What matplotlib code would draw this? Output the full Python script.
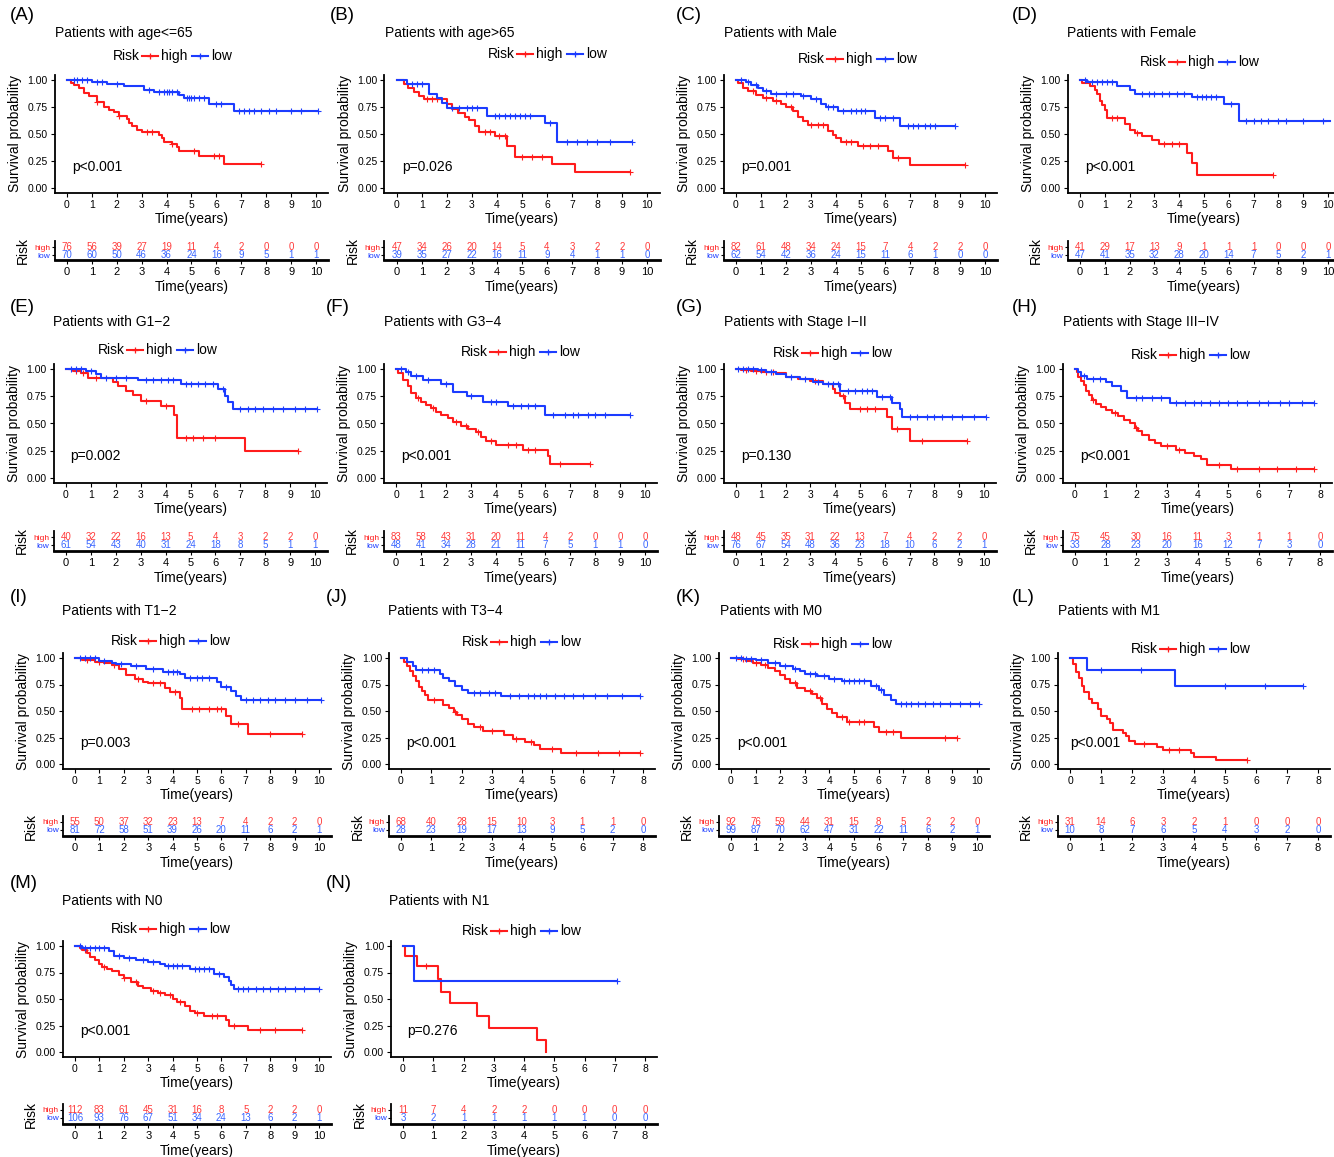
import matplotlib
matplotlib.use("Agg")
import matplotlib.pyplot as plt
from matplotlib.lines import Line2D
import numpy as np

plt.rcParams['font.family'] = ['Liberation Sans', 'DejaVu Sans']

# ---------------- data ----------------
# Panel A
A_high_t = [0, 0.15, 0.3, 0.5, 0.7, 0.9, 1.2, 1.5, 1.7, 1.9, 2.1, 2.4, 2.5, 2.6, 2.8, 3.0, 3.7, 3.8, 3.9, 4.2, 4.4, 4.5, 5.3, 6.3, 7.8]
A_high_s = [1.0, 0.97, 0.95, 0.93, 0.88, 0.85, 0.80, 0.75, 0.72, 0.70, 0.67, 0.64, 0.60, 0.57, 0.54, 0.52, 0.49, 0.46, 0.43, 0.41, 0.38, 0.34, 0.30, 0.22, 0.22]
A_high_c = [1.2, 2.1, 3.2, 3.4, 4.2, 5.1, 5.9, 6.1, 7.8]
A_low_t = [0, 1.0, 1.6, 2.3, 3.1, 3.5, 4.5, 4.7, 5.7, 6.7, 10.1]
A_low_s = [1.0, 0.98, 0.96, 0.94, 0.91, 0.89, 0.86, 0.83, 0.78, 0.71, 0.71]
A_low_c = [0.3, 0.4, 0.6, 0.8, 1.2, 1.4, 2.0, 3.3, 3.7, 3.9, 4.0, 4.1, 4.2, 4.4, 4.8, 4.9, 5.0, 5.1, 5.3, 5.5, 6.0, 6.2, 6.9, 7.1, 7.3, 7.5, 7.8, 8.1, 8.4, 9.0, 9.4, 10.1]
A_risk_high = [76, 56, 39, 27, 19, 11, 4, 2, 0, 0, 0]
A_risk_low = [70, 60, 50, 46, 36, 24, 16, 9, 5, 1, 1]

# Panel B
B_high_t = [0, 0.3, 0.45, 0.7, 0.9, 1.1, 2.0, 2.2, 2.45, 2.7, 2.9, 3.1, 3.3, 3.9, 4.4, 4.7, 6.2, 7.1, 9.3]
B_high_s = [1.0, 0.96, 0.93, 0.89, 0.85, 0.82, 0.78, 0.73, 0.69, 0.66, 0.63, 0.57, 0.52, 0.48, 0.39, 0.29, 0.22, 0.15, 0.15]
B_high_c = [1.2, 1.4, 1.6, 3.5, 3.7, 4.1, 4.3, 5.0, 5.4, 5.8, 9.3]
B_low_t = [0, 0.4, 1.3, 1.6, 1.8, 2.0, 3.6, 5.9, 6.4, 9.4]
B_low_s = [1.0, 0.96, 0.87, 0.83, 0.79, 0.74, 0.67, 0.60, 0.43, 0.43]
B_low_c = [0.6, 0.8, 1.0, 2.2, 2.5, 2.8, 3.0, 3.2, 3.9, 4.1, 4.3, 4.5, 4.7, 4.9, 5.1, 5.3, 6.1, 6.8, 7.2, 7.6, 8.0, 8.5, 9.4]
B_risk_high = [47, 34, 26, 20, 14, 5, 4, 3, 2, 2, 0]
B_risk_low = [39, 35, 27, 22, 16, 11, 9, 4, 1, 1, 0]

# Panel C
C_high_t = [0, 0.1, 0.3, 0.5, 0.8, 1.1, 1.5, 1.8, 2.0, 2.3, 2.5, 2.7, 2.9, 3.7, 3.9, 4.0, 4.2, 4.9, 6.1, 6.3, 7.0, 9.2]
C_high_s = [1.0, 0.97, 0.93, 0.90, 0.86, 0.83, 0.81, 0.78, 0.75, 0.71, 0.66, 0.62, 0.58, 0.53, 0.49, 0.46, 0.43, 0.39, 0.34, 0.28, 0.21, 0.21]
C_high_c = [0.7, 1.2, 1.6, 2.2, 3.0, 3.3, 3.5, 4.4, 4.6, 5.1, 5.4, 5.7, 6.5, 9.2]
C_low_t = [0, 0.4, 0.6, 0.9, 1.1, 1.4, 2.6, 3.0, 3.4, 3.6, 4.1, 5.6, 6.6, 8.8]
C_low_s = [1.0, 0.98, 0.95, 0.93, 0.90, 0.87, 0.85, 0.82, 0.78, 0.75, 0.71, 0.65, 0.57, 0.57]
C_low_c = [0.2, 0.5, 0.8, 1.2, 1.6, 2.0, 2.3, 2.7, 3.2, 3.7, 3.9, 4.3, 4.6, 4.8, 5.0, 5.2, 5.8, 6.0, 6.3, 6.9, 7.1, 7.3, 7.6, 7.8, 8.0, 8.8]
C_risk_high = [82, 61, 48, 34, 24, 15, 7, 4, 2, 2, 0]
C_risk_low = [62, 54, 42, 36, 24, 15, 11, 6, 1, 0, 0]

# Panel D
D_high_t = [0, 0.1, 0.4, 0.6, 0.7, 0.8, 0.9, 1.0, 1.1, 1.8, 2.0, 2.2, 2.5, 2.9, 3.2, 4.3, 4.5, 4.7, 7.8]
D_high_s = [1.0, 0.97, 0.94, 0.91, 0.87, 0.81, 0.77, 0.72, 0.65, 0.59, 0.54, 0.51, 0.48, 0.44, 0.41, 0.32, 0.23, 0.12, 0.12]
D_high_c = [1.3, 1.5, 2.3, 3.4, 3.7, 4.0, 7.8]
D_low_t = [0, 0.3, 1.5, 2.0, 2.2, 4.5, 5.8, 6.4, 10.1]
D_low_s = [1.0, 0.98, 0.94, 0.91, 0.87, 0.84, 0.78, 0.62, 0.62]
D_low_c = [0.2, 0.5, 0.7, 0.9, 1.1, 1.3, 2.5, 2.8, 3.0, 3.3, 3.6, 3.9, 4.2, 4.7, 4.9, 5.1, 5.3, 5.5, 6.1, 6.7, 7.0, 7.3, 7.6, 8.0, 8.3, 9.0, 9.8]
D_risk_high = [41, 29, 17, 13, 9, 1, 1, 1, 0, 0, 0]
D_risk_low = [47, 41, 35, 32, 28, 20, 14, 7, 5, 2, 1]

# Panel E
E_high_t = [0, 0.3, 0.6, 0.9, 1.9, 2.1, 2.4, 2.7, 3.0, 3.8, 4.35, 4.45, 7.2, 9.3]
E_high_s = [1.0, 0.98, 0.96, 0.92, 0.88, 0.84, 0.80, 0.76, 0.71, 0.66, 0.58, 0.37, 0.25, 0.25]
E_high_c = [0.4, 0.7, 1.2, 3.2, 4.0, 4.8, 5.1, 5.5, 6.0, 9.3]
E_low_t = [0, 0.8, 1.2, 1.4, 2.9, 4.6, 6.1, 6.4, 6.5, 6.7, 10.1]
E_low_s = [1.0, 0.98, 0.95, 0.92, 0.90, 0.86, 0.82, 0.75, 0.70, 0.63, 0.63]
E_low_c = [0.2, 0.4, 0.6, 1.0, 1.6, 2.0, 2.4, 3.2, 3.5, 3.8, 4.1, 4.3, 4.8, 5.0, 5.3, 5.6, 5.9, 6.3, 7.0, 7.3, 7.6, 7.9, 8.3, 8.7, 9.2, 9.6, 10.1]
E_risk_high = [40, 32, 22, 16, 13, 5, 4, 3, 2, 2, 0]
E_risk_low = [61, 54, 43, 40, 31, 24, 18, 8, 5, 1, 1]

# Panel F
F_high_t = [0, 0.1, 0.3, 0.5, 0.6, 0.8, 1.0, 1.2, 1.4, 1.6, 1.8, 2.1, 2.3, 2.6, 2.9, 3.2, 3.4, 3.6, 4.0, 5.1, 6.1, 6.2, 7.8]
F_high_s = [1.0, 0.96, 0.90, 0.84, 0.78, 0.73, 0.70, 0.67, 0.64, 0.61, 0.58, 0.55, 0.51, 0.48, 0.45, 0.42, 0.38, 0.34, 0.30, 0.26, 0.20, 0.13, 0.13]
F_high_c = [0.9, 1.5, 2.4, 2.8, 3.3, 3.8, 4.5, 4.8, 5.3, 5.6, 6.6, 7.8]
F_low_t = [0, 0.4, 0.6, 1.1, 1.8, 2.3, 2.85, 3.5, 4.5, 6.0, 9.4]
F_low_s = [1.0, 0.97, 0.94, 0.90, 0.86, 0.79, 0.75, 0.70, 0.66, 0.58, 0.58]
F_low_c = [0.2, 0.5, 0.8, 1.3, 2.0, 3.0, 3.8, 4.0, 4.7, 5.0, 5.3, 5.6, 6.3, 6.8, 7.1, 7.3, 7.7, 8.0, 8.4, 9.4]
F_risk_high = [83, 58, 43, 31, 20, 11, 4, 2, 0, 0, 0]
F_risk_low = [48, 41, 34, 28, 21, 11, 7, 5, 1, 1, 0]

# Panel G
G_high_t = [0, 0.2, 0.6, 1.0, 1.6, 2.0, 2.5, 3.0, 3.5, 3.9, 4.0, 4.2, 4.4, 4.6, 6.1, 6.3, 7.0, 9.3]
G_high_s = [1.0, 0.99, 0.98, 0.97, 0.96, 0.93, 0.91, 0.89, 0.86, 0.82, 0.78, 0.75, 0.69, 0.63, 0.56, 0.45, 0.34, 0.34]
G_high_c = [0.4, 0.8, 1.2, 1.5, 3.2, 4.3, 5.0, 5.3, 5.6, 6.5, 7.5, 9.3]
G_low_t = [0, 0.9, 1.2, 1.6, 2.0, 2.6, 3.1, 3.5, 4.2, 5.7, 6.3, 6.6, 6.7, 10.1]
G_low_s = [1.0, 0.99, 0.97, 0.95, 0.93, 0.91, 0.88, 0.86, 0.80, 0.74, 0.69, 0.63, 0.56, 0.56]
G_low_c = [0.1, 0.3, 0.5, 0.7, 1.0, 1.4, 2.2, 2.8, 3.3, 3.7, 3.9, 4.1, 4.5, 4.8, 5.1, 5.3, 5.5, 5.9, 6.2, 7.0, 7.3, 7.7, 8.0, 8.3, 8.7, 9.1, 9.6, 10.1]
G_risk_high = [48, 45, 35, 31, 22, 13, 7, 4, 2, 2, 0]
G_risk_low = [76, 67, 54, 48, 36, 23, 18, 10, 6, 2, 1]

# Panel H
H_high_t = [0, 0.05, 0.1, 0.2, 0.3, 0.35, 0.45, 0.55, 0.7, 0.85, 1.0, 1.2, 1.4, 1.6, 1.8, 1.95, 2.05, 2.2, 2.4, 2.6, 2.8, 3.3, 3.6, 3.9, 4.1, 4.3, 5.1, 7.8]
H_high_s = [1.0, 0.97, 0.93, 0.89, 0.85, 0.80, 0.76, 0.72, 0.68, 0.65, 0.62, 0.60, 0.57, 0.53, 0.50, 0.46, 0.43, 0.39, 0.35, 0.32, 0.29, 0.26, 0.23, 0.20, 0.17, 0.12, 0.08, 0.08]
H_high_c = [0.6, 1.3, 2.0, 3.0, 3.4, 4.7, 5.3, 6.0, 6.6, 7.2, 7.8]
H_low_t = [0, 0.1, 0.2, 0.4, 1.0, 1.2, 1.5, 1.7, 3.1, 7.8]
H_low_s = [1.0, 0.97, 0.94, 0.91, 0.88, 0.84, 0.80, 0.73, 0.69, 0.69]
H_low_c = [0.3, 0.6, 0.8, 2.0, 2.2, 2.5, 2.8, 3.3, 3.6, 3.9, 4.1, 4.4, 4.7, 5.0, 5.3, 5.6, 6.0, 6.3, 6.7, 7.0, 7.4, 7.8]
H_risk_high = [75, 45, 30, 16, 11, 3, 1, 1, 0]
H_risk_low = [33, 28, 23, 20, 16, 12, 7, 3, 0]

# Panel I
I_high_t = [0, 0.3, 0.8, 1.2, 1.5, 1.8, 2.1, 2.45, 2.8, 3.0, 3.7, 3.9, 4.3, 4.4, 6.2, 6.4, 7.1, 9.3]
I_high_s = [1.0, 0.98, 0.96, 0.95, 0.93, 0.90, 0.84, 0.80, 0.77, 0.76, 0.72, 0.68, 0.62, 0.52, 0.45, 0.38, 0.28, 0.28]
I_high_c = [0.5, 1.0, 1.6, 2.6, 3.2, 3.5, 4.1, 4.8, 5.1, 5.5, 5.8, 6.0, 6.7, 8.0, 9.3]
I_low_t = [0, 1.0, 1.5, 1.7, 2.3, 2.9, 3.6, 4.3, 4.5, 5.8, 6.0, 6.4, 6.6, 6.8, 10.1]
I_low_s = [1.0, 0.97, 0.95, 0.94, 0.92, 0.90, 0.87, 0.85, 0.81, 0.77, 0.73, 0.69, 0.64, 0.60, 0.60]
I_low_c = [0.2, 0.4, 0.6, 0.8, 1.2, 1.9, 2.5, 3.2, 3.8, 4.0, 4.2, 4.7, 5.0, 5.2, 5.5, 6.2, 7.0, 7.3, 7.6, 7.9, 8.2, 8.6, 9.0, 9.5, 10.1]
I_risk_high = [55, 50, 37, 32, 23, 13, 7, 4, 2, 2, 0]
I_risk_low = [81, 72, 58, 51, 39, 26, 20, 11, 6, 2, 1]

# Panel J
J_high_t = [0, 0.1, 0.2, 0.3, 0.4, 0.5, 0.6, 0.7, 0.8, 0.9, 1.4, 1.6, 1.75, 1.85, 2.0, 2.2, 2.4, 2.7, 3.4, 3.7, 4.1, 4.4, 4.6, 5.3, 7.9]
J_high_s = [1.0, 0.96, 0.92, 0.88, 0.83, 0.78, 0.73, 0.69, 0.65, 0.60, 0.56, 0.53, 0.49, 0.46, 0.42, 0.38, 0.35, 0.31, 0.27, 0.24, 0.21, 0.18, 0.14, 0.10, 0.10]
J_high_c = [1.1, 1.8, 2.6, 3.0, 3.8, 4.3, 5.0, 5.8, 6.5, 7.2, 7.9]
J_low_t = [0, 0.2, 0.4, 0.5, 1.3, 1.4, 1.6, 1.8, 2.0, 2.2, 3.3, 7.9]
J_low_s = [1.0, 0.96, 0.92, 0.89, 0.85, 0.81, 0.78, 0.74, 0.70, 0.67, 0.64, 0.64]
J_low_c = [0.7, 0.9, 1.1, 2.4, 2.6, 2.9, 3.1, 3.6, 3.9, 4.2, 4.4, 4.6, 4.8, 5.1, 5.4, 5.7, 6.0, 6.4, 6.8, 7.3, 7.9]
J_risk_high = [68, 40, 28, 15, 10, 3, 1, 1, 0]
J_risk_low = [28, 23, 19, 17, 13, 9, 5, 2, 0]

# Panel K
K_high_t = [0, 0.3, 0.6, 0.9, 1.2, 1.5, 1.8, 2.0, 2.2, 2.4, 2.7, 3.0, 3.3, 3.5, 3.7, 3.9, 4.1, 4.3, 4.7, 5.8, 6.0, 6.9, 9.2]
K_high_s = [1.0, 0.99, 0.97, 0.95, 0.93, 0.91, 0.88, 0.84, 0.80, 0.76, 0.72, 0.69, 0.66, 0.62, 0.57, 0.52, 0.48, 0.44, 0.40, 0.35, 0.30, 0.25, 0.25]
K_high_c = [0.5, 1.0, 1.4, 2.6, 3.2, 3.6, 4.5, 4.8, 5.2, 5.4, 6.3, 6.6, 8.7, 9.2]
K_low_t = [0, 0.5, 1.0, 1.5, 2.0, 2.5, 2.8, 3.0, 3.5, 4.0, 4.5, 5.7, 6.0, 6.2, 6.5, 6.7, 10.1]
K_low_s = [1.0, 0.99, 0.98, 0.95, 0.92, 0.90, 0.88, 0.85, 0.83, 0.80, 0.78, 0.74, 0.70, 0.65, 0.60, 0.57, 0.57]
K_low_c = [0.2, 0.4, 0.6, 0.8, 1.2, 1.8, 2.2, 2.6, 3.2, 3.4, 3.8, 4.2, 4.6, 4.8, 5.0, 5.2, 5.4, 5.9, 6.1, 6.9, 7.1, 7.3, 7.6, 7.9, 8.2, 8.5, 8.9, 9.3, 9.7, 10.1]
K_risk_high = [92, 76, 59, 44, 31, 15, 8, 5, 2, 2, 0]
K_risk_low = [99, 87, 70, 62, 47, 31, 22, 11, 6, 2, 1]

# Panel L
L_high_t = [0, 0.1, 0.2, 0.3, 0.4, 0.45, 0.6, 0.7, 0.9, 1.0, 1.2, 1.3, 1.4, 1.7, 1.8, 1.9, 2.1, 2.8, 3.0, 3.9, 4.0, 4.7, 5.7]
L_high_s = [1.0, 0.94, 0.87, 0.81, 0.74, 0.68, 0.61, 0.58, 0.52, 0.45, 0.42, 0.39, 0.32, 0.29, 0.26, 0.22, 0.19, 0.16, 0.13, 0.10, 0.07, 0.04, 0.04]
L_high_c = [2.4, 3.2, 3.5, 5.7]
L_low_t = [0, 0.55, 3.4, 7.5]
L_low_s = [1.0, 0.89, 0.74, 0.74]
L_low_c = [1.0, 2.3, 5.0, 6.3, 7.5]
L_risk_high = [31, 14, 6, 3, 2, 1, 0, 0, 0]
L_risk_low = [10, 8, 7, 6, 5, 4, 3, 2, 0]

# Panel M
M_high_t = [0, 0.2, 0.3, 0.5, 0.6, 0.8, 1.0, 1.1, 1.3, 1.5, 1.8, 2.0, 2.3, 2.6, 2.8, 3.1, 3.4, 3.7, 4.0, 4.2, 4.5, 4.7, 4.9, 5.3, 6.2, 6.3, 7.1, 9.3]
M_high_s = [1.0, 0.98, 0.96, 0.93, 0.90, 0.87, 0.83, 0.80, 0.78, 0.76, 0.73, 0.70, 0.66, 0.62, 0.60, 0.58, 0.56, 0.54, 0.50, 0.47, 0.43, 0.39, 0.37, 0.34, 0.30, 0.25, 0.21, 0.21]
M_high_c = [0.4, 1.2, 2.0, 2.5, 3.2, 3.5, 3.9, 4.3, 5.0, 5.6, 5.8, 6.5, 7.6, 8.2, 9.3]
M_low_t = [0, 0.3, 1.4, 1.6, 2.0, 2.5, 3.0, 3.5, 3.7, 4.7, 5.7, 6.1, 6.3, 6.4, 6.5, 10.0]
M_low_s = [1.0, 0.98, 0.95, 0.91, 0.89, 0.87, 0.85, 0.83, 0.81, 0.78, 0.74, 0.71, 0.67, 0.63, 0.59, 0.59]
M_low_c = [0.2, 0.4, 0.6, 0.8, 1.0, 1.2, 1.8, 2.2, 2.8, 3.2, 3.8, 4.0, 4.2, 4.4, 4.9, 5.1, 5.3, 5.5, 5.9, 6.7, 6.9, 7.1, 7.4, 7.7, 8.0, 8.3, 8.6, 9.0, 9.4, 10.0]
M_risk_high = [112, 83, 61, 45, 31, 16, 8, 5, 2, 2, 0]
M_risk_low = [106, 93, 76, 67, 51, 34, 24, 13, 6, 2, 1]

# Panel N
N_high_t = [0, 0.05, 0.45, 1.15, 1.26, 1.57, 2.44, 2.83, 4.44, 4.72]
N_high_s = [1.0, 0.91, 0.81, 0.69, 0.57, 0.46, 0.34, 0.23, 0.11, 0.0]
N_high_c = [0.75]
N_low_t = [0, 0.38, 7.06]
N_low_s = [1.0, 0.67, 0.67]
N_low_c = [7.06]
N_risk_high = [11, 7, 4, 2, 2, 0, 0, 0, 0]
N_risk_low = [3, 2, 1, 1, 1, 1, 1, 0, 0]

TITLES = {
    'A': 'Patients with age<=65', 'B': 'Patients with age>65',
    'C': 'Patients with Male', 'D': 'Patients with Female',
    'E': 'Patients with G1\u22122', 'F': 'Patients with G3\u22124',
    'G': 'Patients with Stage I\u2212II', 'H': 'Patients with Stage III\u2212IV',
    'I': 'Patients with T1\u22122', 'J': 'Patients with T3\u22124',
    'K': 'Patients with M0', 'L': 'Patients with M1',
    'M': 'Patients with N0', 'N': 'Patients with N1',
}
PVALS = {
    'A': 'p<0.001', 'B': 'p=0.026', 'C': 'p=0.001', 'D': 'p<0.001',
    'E': 'p=0.002', 'F': 'p<0.001', 'G': 'p=0.130', 'H': 'p<0.001',
    'I': 'p=0.003', 'J': 'p<0.001', 'K': 'p<0.001', 'L': 'p<0.001',
    'M': 'p<0.001', 'N': 'p=0.276',
}
XMAX = {'A': 10, 'B': 10, 'C': 10, 'D': 10, 'E': 10, 'F': 10, 'G': 10, 'H': 8,
        'I': 10, 'J': 8, 'K': 10, 'L': 8, 'M': 10, 'N': 8}

# ---------------- layout (pixels) ----------------
W, H = 1334, 1157
ROW_Y = {
    1: dict(lbl=16, title=33, ytop=80, ybot=188, p=167, rh=247, rl=255, ra=260),
    2: dict(lbl=307, title=322, ytop=369, ybot=478, p=456, rh=537, rl=545, ra=551),
    3: dict(lbl=597, title=611, ytop=658, ybot=764, p=743, rh=822, rl=830, ra=836),
    4: dict(lbl=883, title=901, ytop=946, ybot=1052, p=1031, rh=1110, rl=1118, ra=1124),
}
# row, label_x, title_x, legend_cx, legend_y, x0, x1, p_x
LAYOUT = {
    'A': (1, 10, 55, 170, 56, 67, 316, 72),
    'B': (1, 330, 385, 545, 54, 397, 647, 402),
    'C': (1, 676, 724, 855, 59, 736, 985, 741),
    'D': (1, 1012, 1067, 1197, 62, 1080, 1328, 1085),
    'E': (2, 10, 53, 155, 350, 66, 315, 70),
    'F': (2, 326, 384, 518, 352, 396, 645, 401),
    'G': (2, 676, 724, 830, 353, 736, 984, 741),
    'H': (2, 1012, 1063, 1188, 355, 1075, 1320, 1080),
    'I': (3, 10, 62, 168, 641, 75, 319, 80),
    'J': (3, 326, 388, 519, 642, 401, 643, 406),
    'K': (3, 676, 720, 830, 644, 731, 977, 737),
    'L': (3, 1012, 1058, 1188, 649, 1070, 1318, 1070),
    'M': (4, 10, 62, 168, 929, 75, 319, 80),
    'N': (4, 326, 389, 519, 931, 403, 645, 407),
}

RED = '#FF1C1C'
BLUE = '#1C3CFF'
RED_T = '#FF3A3A'
BLUE_T = '#3A66FF'

fig = plt.figure(figsize=(W / 100, H / 100), dpi=100)


def fx(x):
    return x / W


def fy(y):
    return 1 - y / H


def step_value(t, s, c):
    idx = np.searchsorted(np.asarray(t), np.asarray(c), side='right') - 1
    return np.asarray(s)[idx]


def style_axes(ax, xmax, lw_bottom=1.3, tsize=7.5):
    for sp in ('top', 'right'):
        ax.spines[sp].set_visible(False)
    ax.spines['left'].set_linewidth(1.3)
    ax.spines['bottom'].set_linewidth(lw_bottom)
    ax.set_xlim(-0.05 * xmax, 1.05 * xmax)
    ax.set_xticks(range(0, xmax + 1))
    ax.tick_params(labelsize=tsize, length=3, width=0.8, pad=2, colors='black')


def legend(cx, cy):
    fig.text(fx(cx - 30), fy(cy), 'Risk', ha='right', va='center', fontsize=10)
    for a, b, col, lab in ((cx - 28, cx - 12, RED, 'high'), (cx + 22, cx + 38, BLUE, 'low')):
        fig.add_artist(Line2D([fx(a), fx(b)], [fy(cy), fy(cy)], color=col, lw=1.5))
        fig.add_artist(Line2D([fx((a + b) / 2)], [fy(cy)], color=col, marker='+',
                              ms=4, mew=0.9, ls='none'))
        fig.text(fx(b + 3), fy(cy), lab, ha='left', va='center', fontsize=10)


def draw(L):
    row, lbl_x, title_x, leg_cx, leg_y, x0, x1, p_x = LAYOUT[L]
    R = ROW_Y[row]
    xmax = XMAX[L]
    g = globals()
    span = x1 - x0
    left = x0 - 0.05 * span
    right = x1 + 0.05 * span
    ysp = R['ybot'] - R['ytop']
    top = R['ytop'] - 0.05 * ysp
    bot = R['ybot'] + 0.05 * ysp

    fig.text(fx(lbl_x), fy(R['lbl']), '(%s)' % L, ha='left', va='center', fontsize=13.5)
    fig.text(fx(title_x), fy(R['title']), TITLES[L], ha='left', va='center', fontsize=10)
    legend(leg_cx, leg_y)

    ax = fig.add_axes([fx(left), fy(bot), (right - left) / W, (bot - top) / H])
    style_axes(ax, xmax)
    ax.set_ylim(-0.05, 1.05)
    for grp, col in (('high', RED), ('low', BLUE)):
        t = g['%s_%s_t' % (L, grp)]
        s = g['%s_%s_s' % (L, grp)]
        c = g['%s_%s_c' % (L, grp)]
        ax.step(t, s, where='post', color=col, lw=1.5)
        ax.plot(c, step_value(t, s, c), ls='none', marker='+', ms=4, mew=0.8, color=col)
    ax.set_yticks([0, 0.25, 0.5, 0.75, 1.0])
    ax.set_yticklabels(['0.00', '0.25', '0.50', '0.75', '1.00'])
    ax.set_xlabel('Time(years)', fontsize=10, labelpad=1)
    ax.set_ylabel('Survival probability', fontsize=10, labelpad=4)
    fig.text(fx(p_x), fy(R['p']), PVALS[L], ha='left', va='center', fontsize=10)

    # risk table
    rtop = R['rh'] - 6
    rbot = R['ra']
    rax = fig.add_axes([fx(left), fy(rbot), (right - left) / W, (rbot - rtop) / H])
    style_axes(rax, xmax, lw_bottom=2.0, tsize=8)
    rax.set_ylim(rbot, rtop)
    rh_vals = g['%s_risk_high' % L]
    rl_vals = g['%s_risk_low' % L]
    for i, (vh, vl) in enumerate(zip(rh_vals, rl_vals)):
        rax.text(i, R['rh'], str(vh), color=RED_T, fontsize=7, ha='center', va='center')
        rax.text(i, R['rl'], str(vl), color=BLUE_T, fontsize=7, ha='center', va='center')
    rax.set_yticks([R['rh'], R['rl']])
    rax.set_yticklabels(['high', 'low'])
    rax.tick_params(axis='y', labelsize=6, length=2, pad=1)
    for lab, col in zip(rax.get_yticklabels(), (RED, BLUE)):
        lab.set_color(col)
    rax.set_xlabel('Time(years)', fontsize=10, labelpad=2)
    rax.set_ylabel('Risk', fontsize=10, labelpad=3)


for L in 'ABCDEFGHIJKLMN':
    draw(L)

fig.savefig('out.png', dpi=100)
